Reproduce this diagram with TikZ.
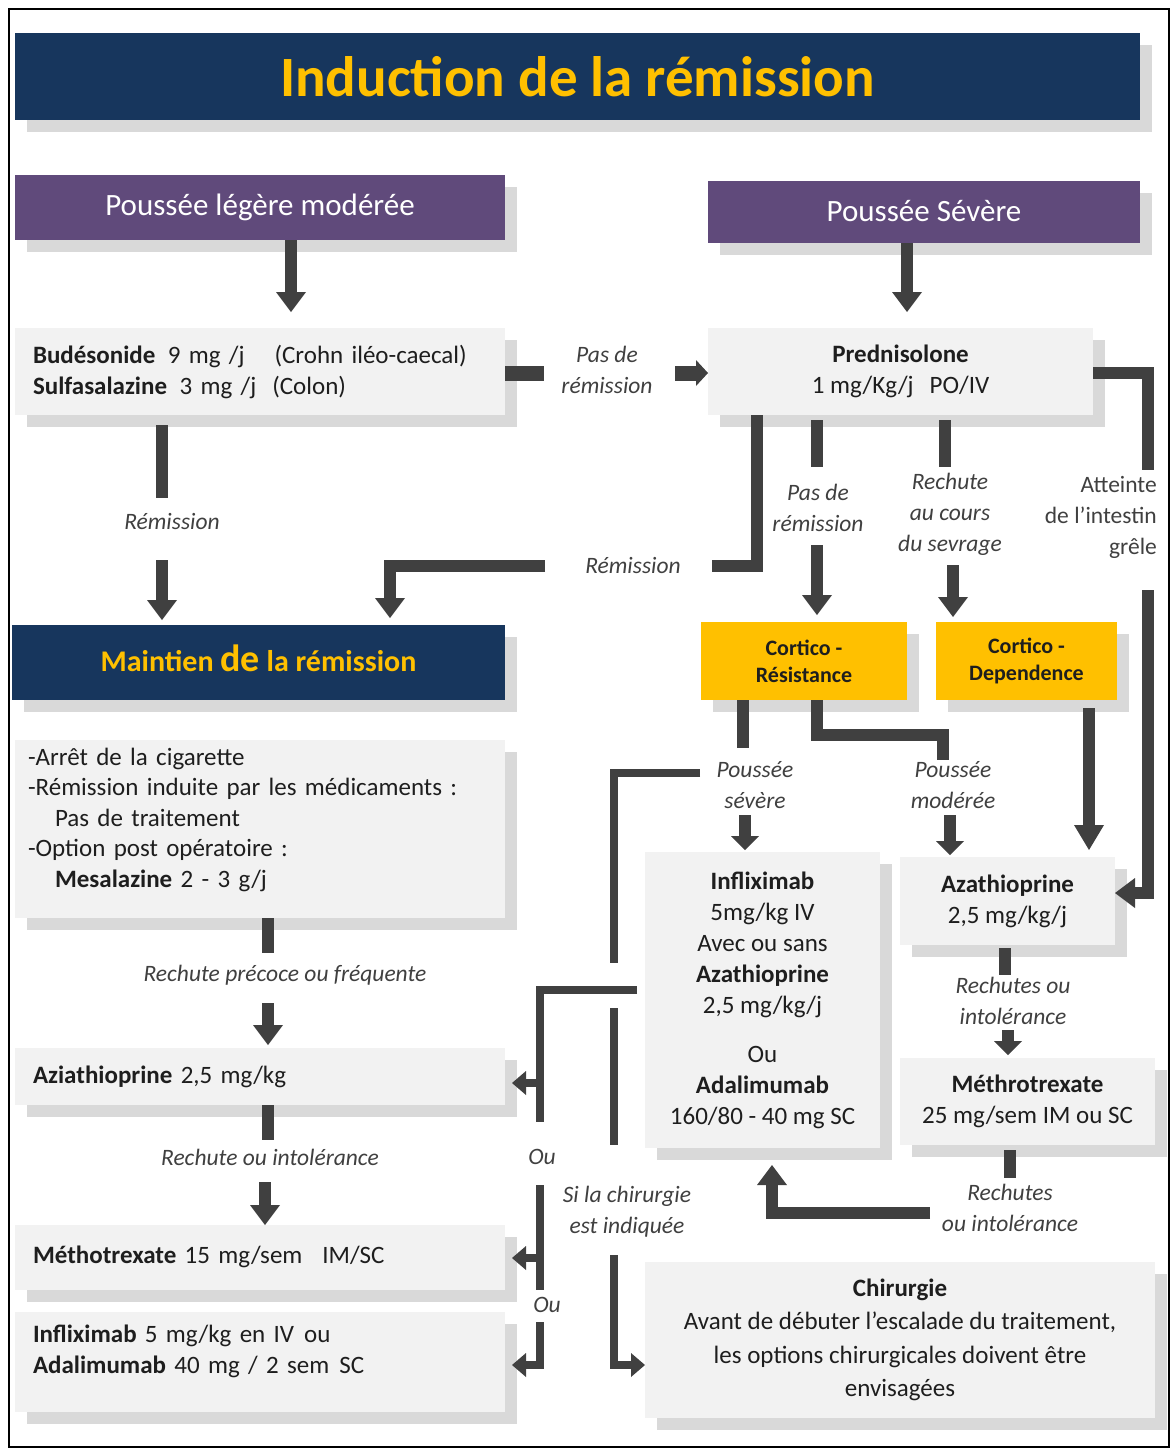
\documentclass[tikz,border=0pt]{standalone}
\usepackage{fontspec}
\setmainfont{Carlito}
\usetikzlibrary{arrows.meta,shadows}
\definecolor{navy}{RGB}{23,54,93}
\definecolor{gold}{RGB}{255,192,0}
\definecolor{purp}{RGB}{96,74,123}
\definecolor{boxg}{RGB}{242,242,242}
\definecolor{shad}{RGB}{217,217,217}
\definecolor{conn}{RGB}{64,64,64}
\definecolor{txt}{RGB}{30,30,30}
\definecolor{labc}{RGB}{64,64,64}
\newcommand\fBody{\fontsize{25}{31}\selectfont}
\newcommand\fTitle{\fontsize{57}{60}\selectfont\bfseries}
\newcommand\fPurp{\fontsize{31}{36}\selectfont}
\newcommand\fLab{\fontsize{23.5}{31}\selectfont}
\newcommand\fCort{\fontsize{22}{27}\selectfont\bfseries}
\newcommand\fMaint{\fontsize{30}{36}\selectfont\bfseries}
\begin{document}
\begin{tikzpicture}[x=1pt,y=-1pt,
  shbox/.style={anchor=north west, inner sep=0pt, outer sep=0pt,
    general shadow={fill=shad, shadow xshift=12pt, shadow yshift=-12pt}},
  graybox/.style={shbox, fill=boxg, text=txt, font=\fBody},
  leftbox/.style={graybox, align=left, inner xsep=18pt},
  cbox/.style={graybox, align=center},
  purpbox/.style={shbox, fill=purp, text=white, font=\fPurp, align=center},
  navybox/.style={shbox, fill=navy, text=gold, align=center},
  orbox/.style={shbox, fill=gold, text=txt, font=\fCort, align=center},
  lab/.style={font=\fLab\itshape, text=labc, align=center, inner sep=0pt},
  bar/.style={draw=conn, line width=12pt},
  thinbar/.style={draw=conn, line width=8pt},
  arr/.style={bar, -{Triangle[width=30pt,length=20pt,line width=0pt]}},
  sarr/.style={bar, -{Triangle[width=28pt,length=14pt,line width=0pt]}},
  tarr/.style={thinbar, -{Triangle[width=24pt,length=14pt,line width=0pt]}},
]
\useasboundingbox (0,0) rectangle (1173,1452);
\fill[white] (0,0) rectangle (1173,1452);
\draw[line width=2.5pt] (9,9) rectangle (1169,1447);

% ---------- boxes ----------
\node[navybox, font=\fTitle, minimum width=1125pt, minimum height=87pt] (title) at (15,33) {Induction de la rémission};
\node[purpbox, minimum width=490pt, minimum height=65pt] (pL) at (15,175) {\raisebox{5pt}{Poussée légère modérée}};
\node[purpbox, minimum width=432pt, minimum height=62pt] (pR) at (708,181) {\raisebox{3pt}{Poussée Sévère}};
\node[leftbox, text width=454pt, minimum height=87pt] (bud) at (15,328)
  {\textbf{Budésonide}\enspace 9 mg /j\hspace{30pt}(Crohn iléo-caecal)\\
   \textbf{Sulfasalazine}\enspace 3 mg /j\hspace{16pt}(Colon)};
\node[cbox, minimum width=385pt, minimum height=87pt] (pred) at (708,328)
  {\textbf{Prednisolone}\\1 mg/Kg/j\hspace{16pt}PO/IV};
\node[navybox, font=\fMaint, minimum width=493pt, minimum height=75pt] (maint) at (12,625)
  {\raisebox{8pt}{Maintien {\fontsize{38}{38}\selectfont de} la rémission}};
\node[orbox, minimum width=206pt, minimum height=78pt] (cres) at (701,622) {Cortico -\\Résistance};
\node[orbox, minimum width=181pt, minimum height=78pt] (cdep) at (936,622) {Cortico -\\Dependence};
\node[leftbox, font=\fontsize{25}{30.5}\selectfont, inner xsep=13pt, text width=464pt, minimum height=178pt] (mtext) at (15,740)
  {-Arrêt de la cigarette\\
   -Rémission induite par les médicaments :\\
   \hspace*{27pt}Pas de traitement\\
   -Option post opératoire :\\
   \hspace*{27pt}\textbf{Mesalazine} 2 - 3 g/j\\[-8pt]\mbox{}};
\node[cbox, minimum width=235pt, minimum height=296pt] (inflx) at (645,852)
  {\textbf{Infliximab}\\5mg/kg IV\\Avec ou sans\\\textbf{Azathioprine}\\2,5 mg/kg/j\\[18pt]Ou\\\textbf{Adalimumab}\\160/80 - 40 mg SC};
\node[cbox, minimum width=215pt, minimum height=88pt] (azaR) at (900,857)
  {\textbf{Azathioprine}\\2,5 mg/kg/j};
\node[cbox, minimum width=255pt, minimum height=87pt] (methR) at (900,1058)
  {\textbf{Méthrotrexate}\\25 mg/sem IM ou SC};
\node[leftbox, text width=454pt, minimum height=57pt] (aziaL) at (15,1048)
  {\textbf{Aziathioprine} 2,5 mg/kg};
\node[leftbox, text width=454pt, minimum height=65pt] (methL) at (15,1225)
  {\raisebox{6pt}{\textbf{Méthotrexate} 15 mg/sem\hspace{20pt}IM/SC}};
\node[leftbox, text width=454pt, minimum height=100pt] (inflL) at (15,1312)
  {\textbf{Infliximab} 5 mg/kg en IV\hspace{10pt}ou\\
   \textbf{Adalimumab} 40 mg / 2 sem\hspace{10pt}SC\\[-6pt]\mbox{}};
\node[cbox, font=\fontsize{25}{33.5}\selectfont, minimum width=510pt, minimum height=156pt] (chir) at (645,1262)
  {\textbf{Chirurgie}\\Avant de débuter l’escalade du traitement,\\les options chirurgicales doivent être\\envisagées};

% ---------- labels ----------
\node[lab] (l1) at (607,370) {Pas de\\rémission};
\node[lab] (l2) at (172,521) {Rémission};
\node[lab] (l3) at (633,565) {Rémission};
\node[lab] (l4) at (818,508) {Pas de\\rémission};
\node[lab] (l5) at (950,514) {Rechute\\au cours\\du sevrage};
\node[lab, font=\fLab, align=right, anchor=east] (l6) at (1157,517) {Atteinte\\de l’intestin\\grêle};
\node[lab] (l7) at (755,785) {Poussée\\sévère};
\node[lab] (l8) at (953,785) {Poussée\\modérée};
\node[lab] (l9) at (285,975) {Rechute précoce ou fréquente};
\node[lab] (l10) at (270,1157) {Rechute ou intolérance};
\node[lab] (l11) at (1013,1001) {Rechutes ou\\intolérance};
\node[lab] (l12) at (1010,1208) {Rechutes\\ou intolérance};
\node[lab] (l13) at (542,1157) {Ou};
\node[lab] (l14) at (547,1305) {Ou};
\node[lab] (l15) at (627,1212) {Si la chirurgie\\est indiquée};

% ---------- connector points ----------
\coordinate (k1) at (291,312);
\coordinate (k2) at (907,312);
\coordinate (k3a) at (544,373);
\coordinate (k3b) at (675,373);
\coordinate (k4a) at (162,498);
\coordinate (k4b) at (162,560);
\coordinate (k5a) at (757,566);
\coordinate (k5b) at (712,566);
\coordinate (k5c) at (545,566);
\coordinate (k5d) at (390,566);
\coordinate (k6a) at (817,467);
\coordinate (k6b) at (817,545);
\coordinate (k7a) at (945,467);
\coordinate (k7b) at (953,565);
\coordinate (k8a) at (1148,373);
\coordinate (k8b) at (1148,470);
\coordinate (k8c) at (1148,590);
\coordinate (k8d) at (1148,893);
\coordinate (k9a) at (743,748);
\coordinate (k9b) at (745,815);
\coordinate (k10a) at (817,735);
\coordinate (k10b) at (943,735);
\coordinate (k10c) at (943,760);
\coordinate (k10d) at (950,815);
\coordinate (k11) at (1089,850);
\coordinate (k12a) at (700,773);
\coordinate (k12b) at (614,773);
\coordinate (k12c) at (614,963);
\coordinate (k12d) at (614,1008);
\coordinate (k12e) at (614,1145);
\coordinate (k12f) at (614,1255);
\coordinate (k12g) at (614,1365);
\coordinate (k13a) at (540,990);
\coordinate (k13b) at (540,1122);
\coordinate (k13c) at (540,1083);
\coordinate (k13d) at (540,1185);
\coordinate (k13e) at (540,1290);
\coordinate (k13f) at (540,1258);
\coordinate (k13g) at (540,1322);
\coordinate (k13h) at (540,1365);
\coordinate (k14a) at (268,953);
\coordinate (k14b) at (268,1003);
\coordinate (k15a) at (268,1140);
\coordinate (k15b) at (265,1182);
\coordinate (k16a) at (1005,975);
\coordinate (k16b) at (1008,1030);
\coordinate (k17a) at (1010,1178);
\coordinate (k17b) at (930,1213);
\coordinate (k17c) at (772,1213);

% ---------- connectors ----------
\draw[arr] (pL.south -| k1) -- (k1);
\draw[arr] (pR.south -| k2) -- (k2);
\draw[bar, line width=15pt] (bud.east |- k3a) -- (k3a);
\draw[bar, line width=15pt, -{Triangle[width=26pt,length=12pt,line width=0pt]}] (k3b) -- (pred.west |- k3b);
\draw[bar, shorten <=10pt] (bud.south -| k4a) -- (k4a);
\draw[arr, shorten >=5pt] (k4b) -- (maint.north -| k4b);
\draw[bar] (pred.south -| k5a) -- (k5a) -- (k5b);
\draw[arr, shorten >=7pt] (k5c) -- (k5d) -- (maint.north -| k5d);
\draw[bar, shorten <=5pt] (pred.south -| k6a) -- (k6a);
\draw[arr, shorten >=7pt] (k6b) -- (cres.north -| k6b);
\draw[bar, shorten <=5pt] (pred.south -| k7a) -- (k7a);
\draw[arr, shorten >=5pt] (k7b) -- (cdep.north -| k7b);
\draw[bar] (pred.east |- k8a) -- (k8a) -- (k8b);
\draw[arr] (k8c) -- (k8d) -- (azaR.east |- k8d);
\draw[bar] (cres.south -| k9a) -- (k9a);
\draw[sarr, shorten >=2pt] (k9b) -- (inflx.north -| k9b);
\draw[bar] (cres.south -| k10a) -- (k10a) -- (k10b) -- (k10c);
\draw[sarr, shorten >=2pt] (k10d) -- (azaR.north -| k10d);
\draw[bar, -{Triangle[width=30pt,length=25pt,line width=0pt]}, shorten <=8pt] (cdep.south -| k11) -- (k11);
\draw[thinbar] (k12a) -- (k12b) -- (k12c);
\draw[thinbar] (k12d) -- (k12e);
\draw[tarr] (k12f) -- (k12g) -- (chir.west |- k12g);
\draw[thinbar, shorten <=8pt] (inflx.west |- k13a) -- (k13a) -- (k13b);
\draw[tarr, shorten >=7pt] (k13c) -- (aziaL.east |- k13c);
\draw[thinbar] (k13d) -- (k13e);
\draw[tarr, shorten >=7pt] (k13f) -- (methL.east |- k13f);
\draw[tarr, shorten >=7pt] (k13g) -- (k13h) -- (inflL.east |- k13h);
\draw[bar] (mtext.south -| k14a) -- (k14a);
\draw[arr, shorten >=3pt] (k14b) -- (aziaL.north -| k14b);
\draw[bar] (aziaL.south -| k15a) -- (k15a);
\draw[arr] (k15b) -- (methL.north -| k15b);
\draw[bar, shorten <=3pt] (azaR.south -| k16a) -- (k16a);
\draw[sarr, shorten >=3pt] (k16b) -- (methR.north -| k16b);
\draw[bar, shorten <=5pt] (methR.south -| k17a) -- (k17a);
\draw[arr, shorten >=17pt] (k17b) -- (k17c) -- (inflx.south -| k17c);
\end{tikzpicture}
\end{document}
